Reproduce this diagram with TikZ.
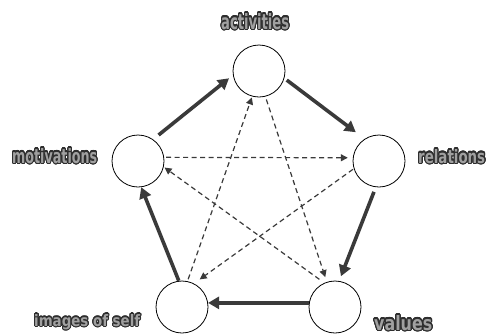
\documentclass[tikz,border=0pt]{standalone}
\usepackage{fontspec}
\usepackage{graphicx}
\usepackage[copies]{contour}
\usetikzlibrary{arrows.meta}
\newfontfamily\labfont{DejaVu Sans}[FakeStretch=0.8]
\definecolor{arrcol}{HTML}{3A3A3A}
\definecolor{txtfill}{HTML}{A0A0A0}
\definecolor{txtline}{HTML}{2E2E2E}
\contourlength{0.65pt}
\contournumber{24}
\newcommand{\outlab}[3]{\resizebox{#1}{#2}{\contour{txtline}{\textcolor{txtfill}{\labfont\bfseries #3}}}}
\begin{document}
\begin{tikzpicture}[x=1pt,y=-1pt,
  circ/.style={circle,draw=black,line width=0.8pt,minimum size=52pt,inner sep=0pt,fill=white},
  solidarr/.style={draw=arrcol,line width=3.6pt,-{Triangle[length=11pt,width=12pt]}},
  dasharr/.style={draw=arrcol,line width=1.2pt,dash pattern=on 5pt off 3.5pt,-{Triangle[length=7pt,width=7pt]}},
  lab/.style={inner sep=0pt,anchor=base west}]
\useasboundingbox (0,0) rectangle (489,333);
\node[circ] (act) at (259,71) {};
\node[circ] (mot) at (138,161) {};
\node[circ] (rel) at (379,161) {};
\node[circ] (img) at (182,307) {};
\node[circ] (val) at (335,307) {};
% labels
\node[lab] (lact) at (221,29) {\outlab{68pt}{16pt}{activities}};
\node[lab] (lmot) at (12,163) {\outlab{85pt}{15pt}{motivations}};
\node[lab] (lrel) at (418,163) {\outlab{67pt}{14pt}{relations}};
\node[lab] (limg) at (34,326) {\outlab{106pt}{12pt}{images of self}};
\node[lab] (lval) at (374,330) {\outlab{58pt}{15pt}{values}};
% solid cycle
\draw[solidarr,shorten <=7pt,shorten >=5pt] (mot.55) -- (act.189);
\draw[solidarr,shorten <=3pt,shorten >=11pt] (act.-16) -- (rel.123);
\draw[solidarr,shorten <=5pt,shorten >=5pt] (rel.263) -- (val.81);
\draw[solidarr] (val.171) -- (img.9);
\draw[solidarr] (img.97) -- (mot.277);
% dashed pentagram
\draw[dasharr,shorten <=2pt,shorten >=5pt] (mot.8) -- (rel.173);
\draw[dasharr,shorten <=1pt,shorten >=7pt] (rel.197) -- (img.63);
\draw[dasharr,shorten <=2pt,shorten >=1pt] (img.78) -- (act.255);
\draw[dasharr,shorten <=3pt,shorten >=5pt] (act.284) -- (val.108);
\draw[dasharr,shorten <=6pt,shorten >=1pt] (val.114) -- (mot.347);
\end{tikzpicture}
\end{document}
